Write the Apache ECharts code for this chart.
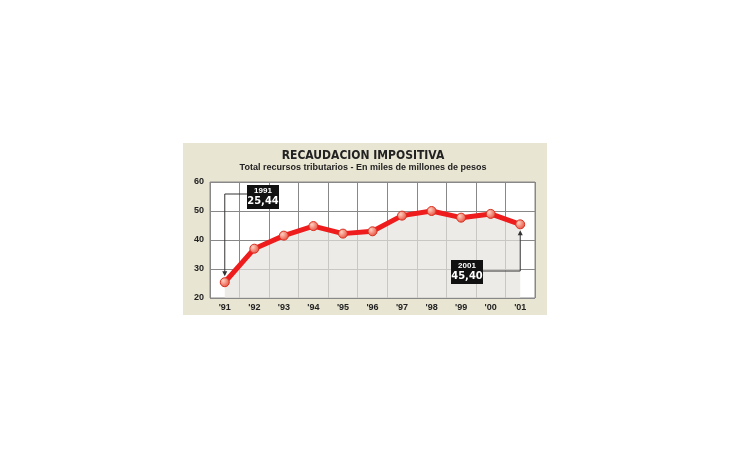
<!DOCTYPE html>
<html><head><meta charset="utf-8">
<script src="https://cdn.jsdelivr.net/npm/echarts@6/dist/echarts.min.js"></script>
<style>html,body{margin:0;background:#fff}#c{width:730px;height:460px}</style>
</head><body><div id="c"></div>
<script>
const years = ["'91","'92","'93","'94","'95","'96","'97","'98","'99","'00","'01"];
const recaudacion = [25.44, 37, 41.5, 44.8, 42.2, 43, 48.4, 50, 47.7, 49, 45.4];

const chart = echarts.init(document.getElementById('c'));
const option = {
  animation: false,
  title: {
    text: 'RECAUDACION IMPOSITIVA',
    subtext: 'Total recursos tributarios - En miles de millones de pesos',
    left: 358, top: 145, textAlign: 'center', itemGap: 1,
    textStyle: { fontFamily: 'DejaVu Sans Condensed', fontSize: 12, fontWeight: 'bold', color: '#222' },
    subtextStyle: { fontFamily: 'Liberation Sans', fontSize: 9, fontWeight: 'bold', color: '#222' }
  },
  grid: { left: 210, top: 182, width: 325, height: 116, backgroundColor: '#fff', show: true, borderColor: '#888', borderWidth: 1 },
  xAxis: {
    type: 'category', data: years, boundaryGap: true,
    axisLine: { show: false }, axisTick: { show: false },
    axisLabel: { color: '#222', fontSize: 9, fontWeight: 'bold', margin: 5 },
    splitLine: { show: true, lineStyle: { color: '#888' } }
  },
  yAxis: {
    type: 'value', min: 20, max: 60, interval: 10,
    axisLine: { show: false }, axisTick: { show: false },
    axisLabel: { color: '#222', fontSize: 9, fontWeight: 'bold', margin: 6 },
    splitLine: { lineStyle: { color: '#888' } }
  },
  series: [{
    type: 'line', data: recaudacion,
    symbol: 'circle', symbolSize: 9,
    lineStyle: { color: '#ee1c1c', width: 5 },
    itemStyle: { color: new echarts.graphic.RadialGradient(0.35, 0.35, 0.7, [
      { offset: 0, color: '#ffd0c0' }, { offset: 1, color: '#e84a3a' }]), borderColor: '#d83020', borderWidth: 1 },
    areaStyle: { color: '#e6e3de', origin: 'start' },
    z: 5
  }]
};
chart.setOption(option);

// callouts anchored to data points
const p0 = chart.convertToPixel({ xAxisIndex: 0, yAxisIndex: 0 }, [0, recaudacion[0]]);
const p1 = chart.convertToPixel({ xAxisIndex: 0, yAxisIndex: 0 }, [10, recaudacion[10]]);
function box(x, y, yr, val) {
  return [
    { type: 'rect', shape: { x: x, y: y, width: 32, height: 24 }, style: { fill: '#111' }, z: 20 },
    { type: 'text', x: x + 16, y: y + 2, style: { text: yr, fill: '#fff', font: 'bold 8px "Liberation Sans"', align: 'center' }, z: 21 },
    { type: 'text', x: x + 16, y: y + 11, style: { text: val, fill: '#fff', font: 'bold 11px "DejaVu Sans Condensed"', align: 'center' }, z: 21 }
  ];
}
const gfx = [{ type: 'rect', shape: { x: 183, y: 143, width: 364, height: 172 }, style: { fill: '#e9e5d3' }, z: -10 }]
  .concat(box(247, 185, '1991', '25,44'))
  .concat(box(451, 260, '2001', '45,40'))
  .concat([
    { type: 'polyline', shape: { points: [[247, 194], [p0[0], 194], [p0[0], p0[1] - 8]] }, style: { stroke: '#333', lineWidth: 1, fill: null }, z: 19 },
    { type: 'polygon', shape: { points: [[p0[0] - 2.5, p0[1] - 11], [p0[0] + 2.5, p0[1] - 11], [p0[0], p0[1] - 6]] }, style: { fill: '#333' }, z: 19 },
    { type: 'polyline', shape: { points: [[483, 271], [p1[0], 271], [p1[0], p1[1] + 8]] }, style: { stroke: '#333', lineWidth: 1, fill: null }, z: 19 },
    { type: 'polygon', shape: { points: [[p1[0] - 2.5, p1[1] + 11], [p1[0] + 2.5, p1[1] + 11], [p1[0], p1[1] + 6]] }, style: { fill: '#333' }, z: 19 }
  ]);
chart.setOption({ graphic: gfx });
</script></body></html>
